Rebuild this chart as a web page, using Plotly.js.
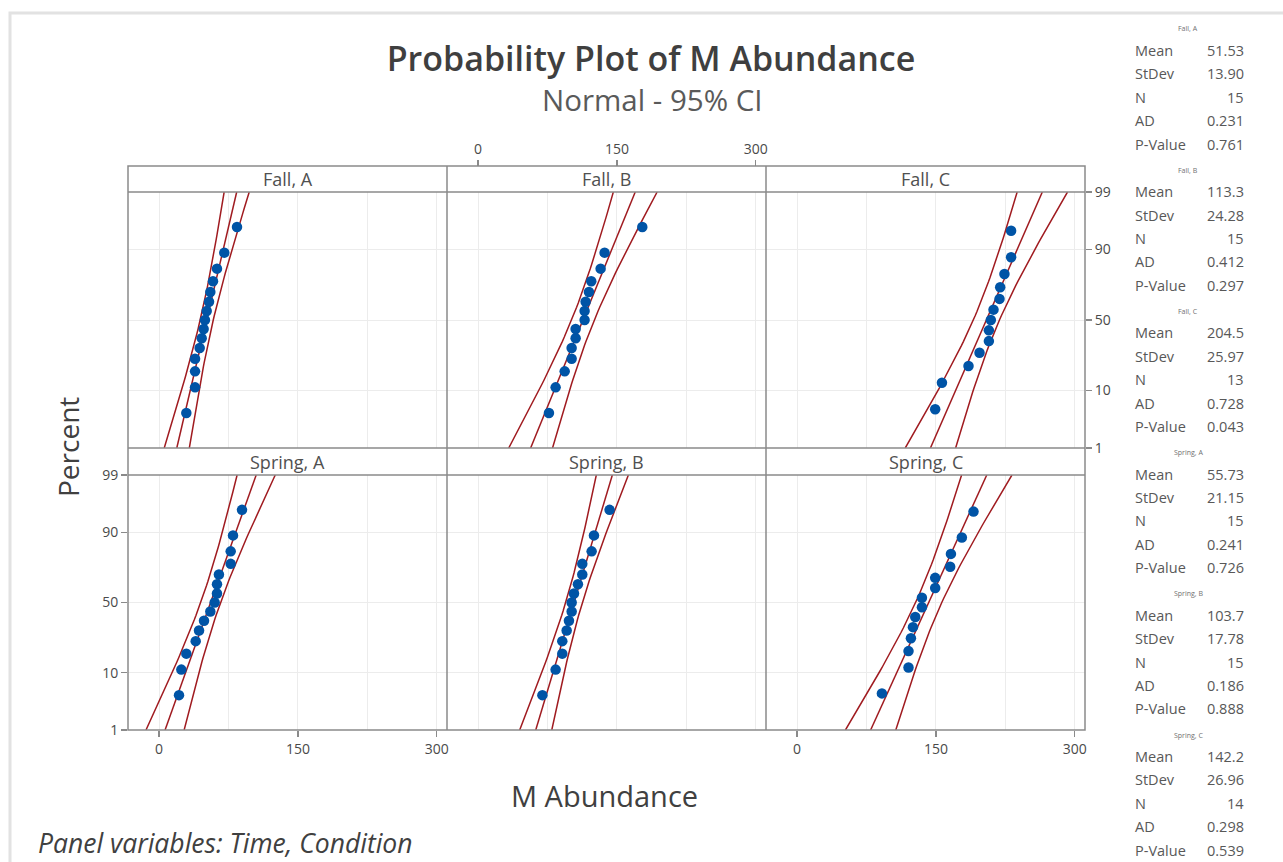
<!DOCTYPE html>
<html><head><meta charset="utf-8">
<script src="https://cdn.plot.ly/plotly-3.0.1.min.js"></script>
<style>html,body{margin:0;padding:0;background:#fff}#chart{width:1283px;height:862px}</style>
</head><body><div id="chart"></div>
<script>
// ---------------- DATA ----------------
const panelNames = ["Fall, A", "Fall, B", "Fall, C", "Spring, A", "Spring, B", "Spring, C"];
const fallA   = [29.5, 38.9, 38.9, 38.9, 43.9, 46.1, 48.2, 49.6, 51.5, 54.0, 55.4, 58.3, 62.6, 70.5, 84.2];
const fallB   = [76.6, 83.8, 93.6, 101.1, 101.1, 105.4, 105.4, 115.1, 115.1, 116.2, 119.8, 122.3, 132.4, 136.7, 177.4];
const fallC   = [149.2, 156.5, 185.2, 197.1, 207.2, 207.2, 209.3, 212.2, 218.7, 219.4, 224.0, 231.2, 231.2];
const springA = [21.6, 24.1, 29.5, 39.6, 43.2, 48.6, 55.4, 60.1, 62.6, 62.6, 64.7, 77.4, 77.4, 79.9, 89.6];
const springB = [69.5, 83.8, 91.0, 91.0, 95.7, 98.2, 101.1, 101.1, 103.6, 107.9, 112.6, 112.6, 122.7, 125.2, 142.1];
const springC = [91.7, 120.4, 120.4, 123.0, 125.2, 127.7, 134.9, 134.9, 149.2, 149.2, 165.4, 166.2, 178.0, 190.6];
const means   = [51.53, 113.3, 204.5, 55.73, 103.7, 142.2];
const stdevs  = [13.90, 24.28, 25.97, 21.15, 17.78, 26.96];
const counts  = [15, 15, 13, 15, 15, 14];
const adStats = [0.231, 0.412, 0.728, 0.241, 0.186, 0.298];
const pValues = [0.761, 0.297, 0.043, 0.726, 0.888, 0.539];
const percentTicks = [1, 10, 50, 90, 99];
const xTickVals = [0, 150, 300];
const xGridMinor = [75, 225];
const statLabels = ["Mean", "StDev", "N", "AD", "P-Value"];
const panelData = [fallA, fallB, fallC, springA, springB, springC];

// ---------------- helpers ----------------
function normInv(p) {
  const a = [-3.969683028665376e+01, 2.209460984245205e+02, -2.759285104469687e+02, 1.383577518672690e+02, -3.066479806614716e+01, 2.506628277459239e+00];
  const b = [-5.447609879822406e+01, 1.615858368580409e+02, -1.556989798598866e+02, 6.680131188771972e+01, -1.328068155288572e+01];
  const c = [-7.784894002430293e-03, -3.223964580411365e-01, -2.400758277161838e+00, -2.549671010584491e+00, 4.374664141464968e+00, 2.938163982698783e+00];
  const d = [7.784695709041462e-03, 3.224671290700398e-01, 2.445134137142996e+00, 3.754408661907416e+00];
  const pl = 0.02425, ph = 1 - pl;
  let q, r;
  if (p < pl) { q = Math.sqrt(-2 * Math.log(p)); return (((((c[0]*q+c[1])*q+c[2])*q+c[3])*q+c[4])*q+c[5]) / ((((d[0]*q+d[1])*q+d[2])*q+d[3])*q+1); }
  if (p <= ph) { q = p - 0.5; r = q*q; return (((((a[0]*r+a[1])*r+a[2])*r+a[3])*r+a[4])*r+a[5])*q / (((((b[0]*r+b[1])*r+b[2])*r+b[3])*r+b[4])*r+1); }
  q = Math.sqrt(-2 * Math.log(1 - p)); return -(((((c[0]*q+c[1])*q+c[2])*q+c[3])*q+c[4])*q+c[5]) / ((((d[0]*q+d[1])*q+d[2])*q+d[3])*q+1);
}
const W = 1283, H = 862;
const px = x => x / W;
const py = y => 1 - y / H;

const zLo = normInv(0.01), zHi = normInv(0.99);
const zTicks = percentTicks.map(p => normInv(p / 100));

const cols = [[128, 447], [447, 766], [766, 1085]];
const rows = [[192, 448], [475, 730]];
const strips = [[166, 192], [448, 475]];

const RED = '#a01b20', BLUE = '#0054a6', GRID = '#ececec', FRAME = '#8a8a8a', TXT = '#4a4a4a';
const FONT = 'Open Sans, Noto Sans, sans-serif';

const traces = [];
const layout = {
  width: W, height: H,
  margin: {l: 0, r: 0, t: 0, b: 0},
  paper_bgcolor: '#ffffff', plot_bgcolor: '#ffffff',
  showlegend: false,
  font: {family: FONT, color: TXT, size: 13},
  title: {text: 'Probability Plot of M Abundance', x: 651 / W, y: py(59), xanchor: 'center', yanchor: 'middle',
          font: {family: FONT, size: 34, color: '#3f3f3f', weight: 600}},
  annotations: [], shapes: []
};

for (let k = 0; k < 6; k++) {
  const r = Math.floor(k / 3), c = k % 3;
  const sfx = k === 0 ? '' : String(k + 1);
  const xa = 'x' + sfx, ya = 'y' + sfx;
  const vals = panelData[k];
  const n = vals.length;
  const zPts = vals.map((v, i) => normInv((i + 1 - 0.3) / (n + 0.4)));

  // fitted line and 95% confidence band
  const zs = [], fit = [], lo = [], hi = [];
  for (let j = 0; j <= 60; j++) {
    const z = zLo + (zHi - zLo) * j / 60;
    const center = means[k] + z * stdevs[k];
    const half = 1.959964 * stdevs[k] * Math.sqrt((1 + z * z / 2) / counts[k]);
    zs.push(z); fit.push(center); lo.push(center - half); hi.push(center + half);
  }
  [lo, fit, hi].forEach(arr => traces.push({type: 'scatter', mode: 'lines', x: arr, y: zs, xaxis: xa, yaxis: ya,
    line: {color: RED, width: 1.5}, hoverinfo: 'skip'}));
  traces.push({type: 'scatter', mode: 'markers', x: vals, y: zPts, xaxis: xa, yaxis: ya,
    marker: {color: BLUE, size: 10.5, line: {width: 0}}});

  const xaxis = {
    domain: [px(cols[c][0]), px(cols[c][1])], range: [-33.5, 311], anchor: ya,
    tickmode: 'array', tickvals: xTickVals, ticktext: xTickVals.map(String),
    showgrid: true, gridcolor: GRID, gridwidth: 1, zeroline: false, showline: false,
    minor: {tickmode: 'array', tickvals: xGridMinor, showgrid: true, gridcolor: GRID, gridwidth: 1, ticks: ''},
    ticks: '', showticklabels: false, tickcolor: FRAME, ticklen: 6, tickwidth: 1.3,
    tickfont: {family: FONT, size: 14, color: TXT}, fixedrange: true
  };
  if (k === 1) { Object.assign(xaxis, {anchor: 'free', position: py(166), side: 'top', ticks: 'outside', showticklabels: true}); }
  if (k === 3 || k === 5) { Object.assign(xaxis, {ticks: 'outside', showticklabels: true}); }
  const yaxis = {
    domain: [py(rows[r][1]), py(rows[r][0])], range: [zLo - 1e-4, zHi + 1e-4], anchor: xa,
    tickmode: 'array', tickvals: zTicks, ticktext: percentTicks.map(String),
    showgrid: true, gridcolor: GRID, gridwidth: 1, zeroline: false, showline: false,
    ticks: '', showticklabels: false, tickcolor: FRAME, ticklen: 6, tickwidth: 1.3,
    tickfont: {family: FONT, size: 14, color: TXT}, fixedrange: true
  };
  if (k === 3) { Object.assign(yaxis, {side: 'left', ticks: 'outside', showticklabels: true}); }
  if (k === 2) { Object.assign(yaxis, {side: 'right', ticks: 'outside', showticklabels: true}); }
  layout['xaxis' + sfx] = xaxis;
  layout['yaxis' + sfx] = yaxis;

  // strip label
  layout.annotations.push({text: panelNames[k], xref: 'paper', yref: 'paper',
    x: px((cols[c][0] + cols[c][1]) / 2), y: py((strips[r][0] + strips[r][1]) / 2 + 0.5),
    xanchor: 'center', yanchor: 'middle', showarrow: false, font: {family: FONT, size: 18, color: '#505050'}});

  // statistics table
  const hy = 29 + k * 141.2;
  layout.annotations.push({text: panelNames[k], xref: 'paper', yref: 'paper', x: px(1188), y: py(hy),
    xanchor: 'center', yanchor: 'middle', showarrow: false, font: {family: FONT, size: 7, color: '#707070'}});
  const valTexts = [means[k].toPrecision(4), stdevs[k].toPrecision(4), String(counts[k]), adStats[k].toFixed(3), pValues[k].toFixed(3)];
  statLabels.forEach((lab, j) => {
    const yy = hy + 21.5 + j * 23.4;
    layout.annotations.push({text: lab, xref: 'paper', yref: 'paper', x: px(1133), y: py(yy),
      xanchor: 'left', yanchor: 'middle', showarrow: false, font: {family: FONT, size: 14.5, color: '#585858'}});
    layout.annotations.push({text: valTexts[j], xref: 'paper', yref: 'paper', x: px(1246), y: py(yy),
      xanchor: 'right', yanchor: 'middle', showarrow: false, font: {family: FONT, size: 14.5, color: '#585858'}});
  });
}

// subtitle, axis titles, footer
layout.annotations.push({text: 'Normal - 95% CI', xref: 'paper', yref: 'paper', x: px(652), y: py(99),
  xanchor: 'center', yanchor: 'middle', showarrow: false, font: {family: FONT, size: 29.5, color: '#5a5a5a'}});
layout.annotations.push({text: 'Percent', xref: 'paper', yref: 'paper', x: px(68), y: py(447), textangle: -90,
  xanchor: 'center', yanchor: 'middle', showarrow: false, font: {family: FONT, size: 28, color: '#404040'}});
layout.annotations.push({text: 'M Abundance', xref: 'paper', yref: 'paper', x: px(604), y: py(795),
  xanchor: 'center', yanchor: 'middle', showarrow: false, font: {family: FONT, size: 29, color: '#404040'}});
layout.annotations.push({text: '<i>Panel variables: Time, Condition</i>', xref: 'paper', yref: 'paper', x: px(36), y: py(843),
  xanchor: 'left', yanchor: 'middle', showarrow: false, font: {family: FONT, size: 26.5, color: '#404040'}});

// frames
const ln = (x0, y0, x1, y1, color, width) => ({type: 'line', xref: 'paper', yref: 'paper',
  x0: px(x0), y0: py(y0), x1: px(x1), y1: py(y1), line: {color: color, width: width}, layer: 'above'});
layout.shapes.push({type: 'rect', xref: 'paper', yref: 'paper', x0: px(10), y0: py(13), x1: px(1300), y1: py(880),
  line: {color: '#e2e2e2', width: 3}, layer: 'below'});
layout.shapes.push({type: 'rect', xref: 'paper', yref: 'paper', x0: px(128), y0: py(166), x1: px(1085), y1: py(730),
  line: {color: FRAME, width: 1.5}, layer: 'above'});
[192, 448, 475].forEach(y => layout.shapes.push(ln(128, y, 1085, y, FRAME, 1.5)));
[447, 766].forEach(x => layout.shapes.push(ln(x, 166, x, 730, FRAME, 1.5)));

Plotly.newPlot('chart', traces, layout, {displayModeBar: false, staticPlot: true});
</script></body></html>
